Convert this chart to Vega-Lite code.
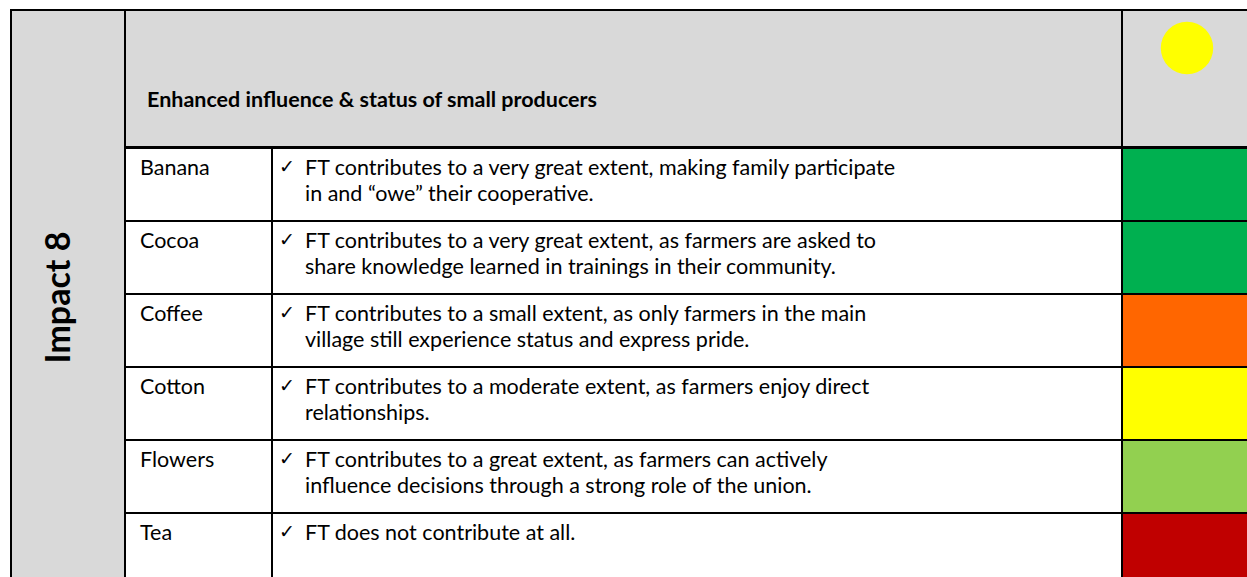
{
  "$schema": "https://vega.github.io/schema/vega-lite/v6.json",
  "background": "white",
  "padding": {"left": 10, "top": 9, "right": 0, "bottom": 0},
  "bounds": "flush",
  "spacing": 0,
  "config": {
    "view": {"stroke": "black", "strokeWidth": 2},
    "concat": {"spacing": 0},
    "text": {"font": "Lato", "color": "black"}
  },
  "datasets": {
    "rows": [
      {"crop": "Banana", "rating": "very great", "check": "✓", "text": "FT contributes to a very great extent, making family participate\nin and “owe” their cooperative."},
      {"crop": "Cocoa", "rating": "very great", "check": "✓", "text": "FT contributes to a very great extent, as farmers are asked to\nshare knowledge learned in trainings in their community."},
      {"crop": "Coffee", "rating": "small", "check": "✓", "text": "FT contributes to a small extent, as only farmers in the main\nvillage still experience status and express pride."},
      {"crop": "Cotton", "rating": "moderate", "check": "✓", "text": "FT contributes to a moderate extent, as farmers enjoy direct\nrelationships."},
      {"crop": "Flowers", "rating": "great", "check": "✓", "text": "FT contributes to a great extent, as farmers can actively\ninfluence decisions through a strong role of the union."},
      {"crop": "Tea", "rating": "none", "check": "✓", "text": "FT does not contribute at all."}
    ],
    "header": [
      {"slot": "title", "label": "Enhanced influence & status of small producers", "overall": "moderate"},
      {"slot": "marker", "label": "", "overall": "moderate"}
    ]
  },
  "hconcat": [
    {
      "width": 114,
      "height": 575,
      "view": {"fill": "#D9D9D9", "stroke": "black", "strokeWidth": 2},
      "data": {"values": [{"impact": "Impact 8"}]},
      "mark": {"type": "text", "angle": 270, "fontSize": 34, "fontWeight": "bold", "baseline": "middle", "align": "center", "dy": -8},
      "encoding": {"text": {"field": "impact", "type": "nominal"}}
    },
    {
      "spacing": -3,
      "bounds": "full",
      "vconcat": [
        {
          "spacing": 0,
          "bounds": "flush",
          "hconcat": [
            {
              "width": 997,
              "height": 137,
              "view": {"fill": "#D9D9D9", "stroke": "black", "strokeWidth": 2},
              "data": {"name": "header"},
              "transform": [{"filter": "datum.slot === 'title'"}],
              "mark": {"type": "text", "align": "left", "baseline": "alphabetic", "fontSize": 21.5, "fontWeight": "bold", "x": 0, "dx": 22, "dy": -2},
              "encoding": {
                "y": {"field": "slot", "type": "nominal", "axis": null, "scale": {"type": "point", "domain": ["marker", "title"], "padding": 0.62}},
                "text": {"field": "label", "type": "nominal"}
              }
            },
            {
              "width": 130,
              "height": 137,
              "view": {"fill": "#D9D9D9", "stroke": "black", "strokeWidth": 2},
              "data": {"name": "header"},
              "transform": [{"filter": "datum.slot === 'marker'"}],
              "mark": {"type": "point", "filled": true, "shape": "circle", "size": 2750, "opacity": 1, "dx": -5},
              "encoding": {
                "y": {"field": "slot", "type": "nominal", "axis": null, "scale": {"type": "point", "domain": ["marker", "title"], "padding": 0.62}},
                "color": {"field": "overall", "type": "nominal", "legend": null, "scale": {"domain": ["very great", "great", "moderate", "small", "none"], "range": ["#00B050", "#92D050", "#FFFF00", "#FF6600", "#C00000"]}}
              }
            }
          ]
        },
        {
          "spacing": 0,
          "bounds": "flush",
          "hconcat": [
            {
              "width": 147,
              "height": 438,
              "data": {"name": "rows"},
              "encoding": {
                "y": {"field": "crop", "type": "nominal", "axis": null, "sort": null, "scale": {"domain": ["Banana", "Cocoa", "Coffee", "Cotton", "Flowers", "Tea"], "paddingInner": 0, "paddingOuter": 0}}
              },
              "layer": [
                {"mark": {"type": "rect", "fill": "white", "stroke": "black", "strokeWidth": 2}},
                {
                  "mark": {"type": "text", "align": "left", "baseline": "alphabetic", "fontSize": 21.5, "x": 0, "dx": 15, "dy": 27},
                  "encoding": {
                    "y": {"field": "crop", "type": "nominal", "bandPosition": 0, "axis": null, "sort": null, "scale": {"domain": ["Banana", "Cocoa", "Coffee", "Cotton", "Flowers", "Tea"], "paddingInner": 0, "paddingOuter": 0}},
                    "text": {"field": "crop", "type": "nominal"}
                  }
                }
              ]
            },
            {
              "width": 850,
              "height": 438,
              "data": {"name": "rows"},
              "encoding": {
                "y": {"field": "crop", "type": "nominal", "axis": null, "sort": null, "scale": {"domain": ["Banana", "Cocoa", "Coffee", "Cotton", "Flowers", "Tea"], "paddingInner": 0, "paddingOuter": 0}}
              },
              "layer": [
                {"mark": {"type": "rect", "fill": "white", "stroke": "black", "strokeWidth": 2}},
                {
                  "mark": {"type": "text", "align": "left", "baseline": "alphabetic", "font": "DejaVu Sans", "fontSize": 19, "x": 0, "dx": 7, "dy": 25},
                  "encoding": {
                    "y": {"field": "crop", "type": "nominal", "bandPosition": 0, "axis": null, "sort": null, "scale": {"domain": ["Banana", "Cocoa", "Coffee", "Cotton", "Flowers", "Tea"], "paddingInner": 0, "paddingOuter": 0}},
                    "text": {"field": "check", "type": "nominal"}
                  }
                },
                {
                  "mark": {"type": "text", "align": "left", "baseline": "alphabetic", "fontSize": 21.5, "lineBreak": "\n", "lineHeight": 26, "x": 0, "dx": 33, "dy": 27},
                  "encoding": {
                    "y": {"field": "crop", "type": "nominal", "bandPosition": 0, "axis": null, "sort": null, "scale": {"domain": ["Banana", "Cocoa", "Coffee", "Cotton", "Flowers", "Tea"], "paddingInner": 0, "paddingOuter": 0}},
                    "text": {"field": "text", "type": "nominal"}
                  }
                }
              ]
            },
            {
              "width": 130,
              "height": 438,
              "data": {"name": "rows"},
              "mark": {"type": "rect", "stroke": "black", "strokeWidth": 2, "opacity": 1},
              "encoding": {
                "y": {"field": "crop", "type": "nominal", "axis": null, "sort": null, "scale": {"domain": ["Banana", "Cocoa", "Coffee", "Cotton", "Flowers", "Tea"], "paddingInner": 0, "paddingOuter": 0}},
                "color": {"field": "rating", "type": "nominal", "legend": null, "scale": {"domain": ["very great", "great", "moderate", "small", "none"], "range": ["#00B050", "#92D050", "#FFFF00", "#FF6600", "#C00000"]}}
              }
            }
          ]
        }
      ]
    }
  ]
}
